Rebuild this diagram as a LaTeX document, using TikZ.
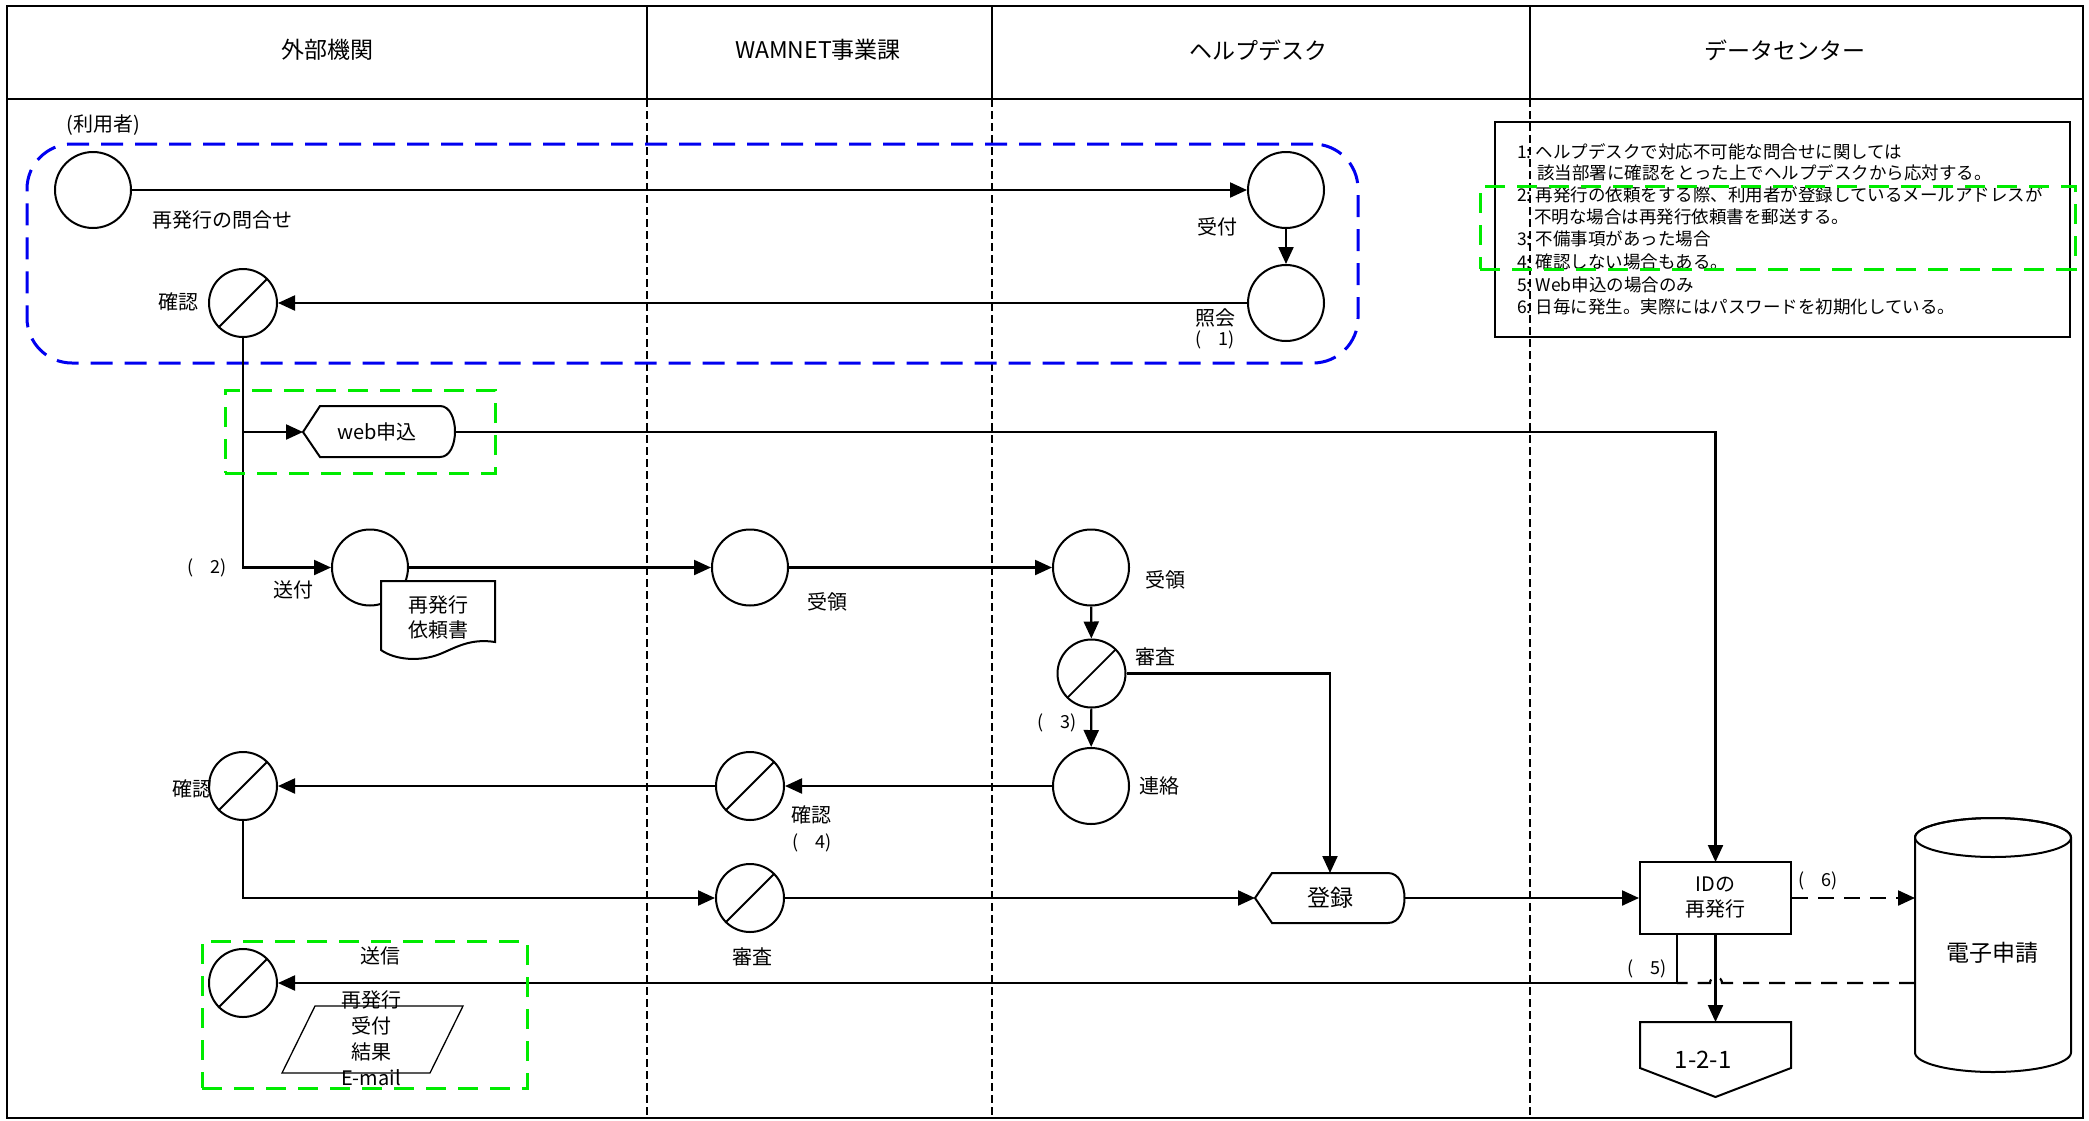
\documentclass[tikz,border=0pt]{standalone}
\usepackage{fontspec}
\setmainfont{Noto Sans CJK JP}
\usetikzlibrary{arrows.meta}
\definecolor{gbox}{RGB}{0,235,0}
\definecolor{bbox}{RGB}{0,0,240}
\begin{document}
\begin{tikzpicture}[x=1pt,y=-1pt,
  ln/.style={line width=2.2pt},
  arr/.style={ln,-{Triangle[length=17pt,width=15pt]}},
  shp/.style={line width=2pt,fill=white},
  pc/.style={circle,draw,line width=2pt,minimum size=76pt,inner sep=0pt,fill=white},
  sc/.style={circle,draw,line width=2pt,minimum size=68pt,inner sep=0pt,fill=white},
  lbl/.style={inner sep=0pt,font=\fontsize{20}{25}\selectfont},
  hdr/.style={inner sep=0pt,font=\fontsize{23}{28}\selectfont},
  note/.style={inner sep=0pt,anchor=west,font=\fontsize{17.5}{21}\selectfont},
  small/.style={inner sep=0pt,font=\fontsize{18}{22}\selectfont},
  gdash/.style={draw=gbox,line width=3pt,dash pattern=on 20pt off 12pt,inner sep=0pt},
  lane/.style={line width=1.3pt,dash pattern=on 8pt off 4pt},
  dsh/.style={dash pattern=on 16pt off 10pt},
]
\useasboundingbox (0,0) rectangle (2089,1120);
\fill[white] (0,0) rectangle (2089,1120);

% frame and lanes
\draw[line width=2.2pt] (7,6) rectangle (2083,1118);
\draw[line width=2.2pt] (7,99) -- (2083,99);
\foreach \x in {647,992,1530} {
  \draw[line width=1.6pt] (\x,6) -- (\x,99);
  \draw[lane] (\x,99) -- (\x,1118);
}
\node[hdr] (hdr1) at (327,50) {外部機関};
\node[hdr] (hdr2) at (818,50) {WAMNET事業課};
\node[hdr] (hdr3) at (1258,50) {ヘルプデスク};
\node[hdr] (hdr4) at (1785,50) {データセンター};

% blue group
\node[draw=bbox,line width=3pt,dash pattern=on 22pt off 12pt,rounded corners=45pt,
      minimum width=1331pt,minimum height=219pt,inner sep=0pt] (grp) at (692.5,253.5) {};

% notes box
\node[draw,line width=1.2pt,minimum width=575pt,minimum height=215pt,inner sep=0pt] (notes) at (1782.5,229.5) {};
\node[note] (n1) at (1517,152) {1:\hspace{4pt}ヘルプデスクで対応不可能な問合せに関しては};
\node[note] (n1b) at (1537,173) {該当部署に確認をとった上でヘルプデスクから応対する。};
\node[note] (n2) at (1517,195) {2:\hspace{4pt}再発行の依頼をする際、利用者が登録しているメールアドレスが};
\node[note] (n2b) at (1534,217) {不明な場合は再発行依頼書を郵送する。};
\node[note] (n3) at (1517,239) {3:\hspace{4pt}不備事項があった場合};
\node[note] (n4) at (1517,262) {4:\hspace{4pt}確認しない場合もある。};
\node[note] (n5) at (1517,285) {5:\hspace{4pt}Web申込の場合のみ};
\node[note] (n6) at (1517,307) {6:\hspace{4pt}日毎に発生。実際にはパスワードを初期化している。};

% nodes
\node[pc] (u1) at (93,190) {};
\node[pc] (h1) at (1286,190) {};
\node[pc] (h2) at (1286,303) {};
\node[sc] (u2) at (243,303) {};
\node[pc] (u3) at (370,567.5) {};
\node[pc] (w1) at (750,567.5) {};
\node[pc] (h3) at (1091,567.5) {};
\node[sc] (h4) at (1091.5,673.5) {};
\node[pc] (h5) at (1091,786) {};
\node[sc] (w2) at (750,786) {};
\node[sc] (u4) at (243,786) {};
\node[sc] (w3) at (750,898) {};
\node[sc] (u5) at (243,983) {};
\foreach \n in {u2,h4,w2,u4,w3,u5} \draw[line width=1.8pt] (\n.225) -- (\n.45);

\coordinate (webL) at (303,432);
\coordinate (webR) at (455,432);
\coordinate (regL) at (1255,898);
\coordinate (regR) at (1404.5,898);
\coordinate (regT) at (1330,873);
\coordinate (dbA) at (1915,898);
\coordinate (dbB) at (1915,983);
\coordinate (j5) at (1677,934);
\coordinate (offT) at (1715.5,1022);

% connectors
\draw[arr] (u1) -- (h1);
\draw[arr] (h1) -- (h2);
\draw[arr] (h2) -- (u2);
\draw[arr] (u2.south) |- (u3.west);
\draw[arr] (u2.south |- webL) -- (webL);
\draw[arr] (webR) -| (1715.5,862);
\draw[arr] (u3) -- (w1);
\draw[arr] (w1) -- (h3);
\draw[arr] (h3) -- (h4);
\draw[arr] (h4) -- (h5);
\draw[ln] (h4.east) -| (1330,820);
\draw[arr] (1330,700) -- (regT);
\draw[arr] (h5) -- (w2);
\draw[arr] (w2) -- (u4);
\draw[arr] (u4.south) |- (w3.west);
\draw[arr] (w3) -- (regL);

% shapes
\draw[shp] (webL) -- (320,406) -- (440,406) .. controls (460,406) and (460,457) .. (440,457) -- (320,457) -- cycle;
\node[lbl] (web) at (377,432) {web申込};
\draw[shp] (regL) -- (1272,873) -- (1388,873) .. controls (1410,873) and (1410,923) .. (1388,923) -- (1272,923) -- cycle;
\node[hdr] (reg) at (1330,898) {登録};
\node[draw,line width=2pt,minimum width=151pt,minimum height=72pt,fill=white,align=center,
      inner sep=0pt,font=\fontsize{20}{25}\selectfont] (id) at (1715.5,898) {IDの\\再発行};
\draw[arr] (regR) -- (id.west);
\draw[arr,dsh] (id.east) -- (dbA);
\draw[arr] (id.south) -- (offT);
\draw[ln,dsh] (dbB) -- (1722,983) arc[start angle=0,end angle=180,radius=6pt] -- (1677,983);
\draw[arr] (j5) |- (u5.east);

% document
\draw[shp] (381,581) -- (495,581) -- (495,642) .. controls (470,638) and (455,648) .. (440,654) .. controls (420,662) and (395,660) .. (381,650) -- cycle;
\node[lbl,align=center] (doc) at (438,617) {再発行\\依頼書};

% off-page connector
\draw[shp] (1640,1022) -- (1791,1022) -- (1791,1068) -- (1715.5,1097) -- (1640,1068) -- cycle;
\node[inner sep=0pt,font=\fontsize{24}{28}\selectfont] (off) at (1703,1060) {1-2-1};

% cylinder
\draw[shp] (1915,837.5) -- (1915,1052.5) arc[start angle=180,end angle=360,x radius=78pt,y radius=19.5pt] -- (2071,837.5) arc[start angle=0,end angle=180,x radius=78pt,y radius=19.5pt] -- cycle;
\draw[line width=2pt] (1993,837.5) ellipse[x radius=78pt,y radius=19.5pt];
\node[hdr] (db) at (1992,953) {電子申請};

% parallelogram
\draw[line width=1.3pt] (315,1006) -- (463,1006) -- (430,1073) -- (282,1073) -- cycle;
\node[lbl,align=center,font=\fontsize{20}{26}\selectfont] (mail) at (371,1038) {再発行\\受付\\結果\\E-mail};

% labels
\node[lbl] (lu0) at (103,125) {(利用者)};
\node[lbl] (lu1) at (222,220) {再発行の問合せ};
\node[lbl] (lh1) at (1217,227) {受付};
\node[lbl] (lh2) at (1215,318) {照会};
\node[small] (lp1) at (1215,340) {(\hspace{0.9em}1)};
\node[lbl] (lu2) at (178,302) {確認};
\node[small] (lp2) at (207,568) {(\hspace{0.9em}2)};
\node[lbl] (lu3) at (293,590) {送付};
\node[lbl] (lw1) at (827,602) {受領};
\node[lbl] (lh3) at (1165,580) {受領};
\node[lbl] (lh4) at (1155,657) {審査};
\node[small] (lp3) at (1057,723) {(\hspace{0.9em}3)};
\node[lbl] (lh5) at (1159,786) {連絡};
\node[lbl] (lw2) at (811,815) {確認};
\node[small] (lp4) at (812,843) {(\hspace{0.9em}4)};
\node[lbl] (lu4) at (192,789) {確認};
\node[lbl] (lw3) at (752,957) {審査};
\node[small] (lp6) at (1818,881) {(\hspace{0.9em}6)};
\node[small] (lp5) at (1647,969) {(\hspace{0.9em}5)};
\node[lbl] (lu5) at (380,956) {送信};

% green highlight boxes
\node[gdash,minimum width=270pt,minimum height=83pt] (g1) at (360,431.5) {};
\node[gdash,minimum width=325pt,minimum height=147pt] (g2) at (364.5,1014.5) {};
\node[gdash,minimum width=595pt,minimum height=83pt] (g3) at (1777.5,227.5) {};
\end{tikzpicture}
\end{document}
